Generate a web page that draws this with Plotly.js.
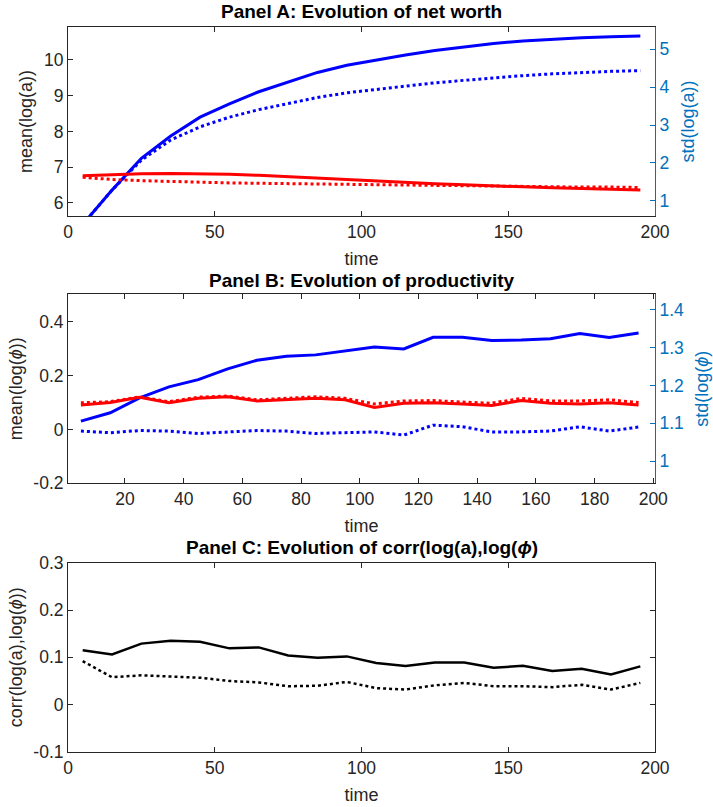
<!DOCTYPE html>
<html>
<head>
<meta charset="utf-8">
<script src="https://cdn.plot.ly/plotly-3.0.1.min.js"></script>
<style>html,body{margin:0;padding:0;background:#fff;}#chart{width:713px;height:807px;}</style>
</head>
<body>
<div id="chart"></div>
<script>
// ---- data ----
const time = [5, 15, 25, 35, 45, 55, 65, 75, 85, 95, 105, 115, 125, 135, 145, 155, 165, 175, 185, 195];

// Panel A: net worth
const meanLogA_solid = [5.40, 6.36, 7.25, 7.87, 8.40, 8.77, 9.11, 9.39, 9.65, 9.85, 10.00, 10.14, 10.26, 10.37, 10.46, 10.53, 10.58, 10.62, 10.65, 10.67];
const meanLogA_dotted = [5.40, 6.36, 7.20, 7.76, 8.13, 8.40, 8.61, 8.79, 8.95, 9.08, 9.18, 9.27, 9.36, 9.43, 9.50, 9.56, 9.61, 9.65, 9.68, 9.70];
const stdLogA_solid = [1.66, 1.69, 1.71, 1.72, 1.72, 1.70, 1.67, 1.63, 1.59, 1.55, 1.51, 1.48, 1.45, 1.42, 1.39, 1.37, 1.34, 1.32, 1.30, 1.28];
const stdLogA_dotted = [1.62, 1.56, 1.53, 1.50, 1.49, 1.47, 1.46, 1.45, 1.45, 1.44, 1.43, 1.42, 1.41, 1.40, 1.39, 1.38, 1.37, 1.36, 1.36, 1.35];

// Panel B: productivity
const meanLogPhi_solid = [0.031, 0.062, 0.117, 0.158, 0.185, 0.225, 0.257, 0.272, 0.277, 0.292, 0.306, 0.299, 0.342, 0.342, 0.330, 0.332, 0.337, 0.356, 0.342, 0.358];
const meanLogPhi_dotted = [-0.006, -0.012, -0.004, -0.006, -0.015, -0.010, -0.004, -0.006, -0.015, -0.012, -0.009, -0.021, 0.016, 0.010, -0.009, -0.009, -0.006, 0.010, -0.006, 0.009];
const stdLogPhi_solid = [1.148, 1.155, 1.169, 1.154, 1.166, 1.170, 1.159, 1.163, 1.166, 1.162, 1.142, 1.153, 1.154, 1.151, 1.147, 1.160, 1.153, 1.151, 1.154, 1.148];
const stdLogPhi_dotted = [1.154, 1.157, 1.170, 1.157, 1.169, 1.172, 1.162, 1.166, 1.170, 1.166, 1.151, 1.159, 1.160, 1.156, 1.153, 1.166, 1.159, 1.159, 1.162, 1.155];

// Panel C: correlation
const corr_solid = [0.115, 0.106, 0.129, 0.135, 0.133, 0.119, 0.121, 0.104, 0.099, 0.102, 0.088, 0.082, 0.089, 0.089, 0.078, 0.082, 0.071, 0.076, 0.064, 0.081];
const corr_dotted = [0.092, 0.058, 0.062, 0.060, 0.057, 0.050, 0.047, 0.039, 0.040, 0.048, 0.035, 0.032, 0.041, 0.046, 0.039, 0.039, 0.037, 0.042, 0.032, 0.046];

// tick labels
const xTicksAC = [0, 50, 100, 150, 200];
const xTicksB = [20, 40, 60, 80, 100, 120, 140, 160, 180, 200];
const yTicksA = [6, 7, 8, 9, 10];
const y2TicksA = [1, 2, 3, 4, 5];
const yTicksB = [-0.2, 0, 0.2, 0.4];
const yTickTextB = ['-0.2', '0', '0.2', '0.4'];
const y2TicksB = [1, 1.1, 1.2, 1.3, 1.4];
const y2TickTextB = ['1', '1.1', '1.2', '1.3', '1.4'];
const yTicksC = [-0.1, 0, 0.1, 0.2, 0.3];
const yTickTextC = ['-0.1', '0', '0.1', '0.2', '0.3'];

const titles = ['<b>Panel A: Evolution of net worth</b>', '<b>Panel B: Evolution of productivity</b>', '<b>Panel C: Evolution of corr(log(a),log(<i>ϕ</i>)</b>'];

// ---- styling ----
const FONT = 'Liberation Sans, Arial, Helvetica, sans-serif';
const AX = '#262626';
const RAX = '#0072BD';
const BLUE = '#0000FF', RED = '#FF0000', BLACK = '#000000';
const LW = 3;
const TICKSIZE = 17.5, LABELSIZE = 18, TITLESIZE = 19;

function line(x, y, color, dash, xa, ya, w) {
  return {x: x, y: y, type: 'scatter', mode: 'lines', xaxis: xa, yaxis: ya,
          line: {color: color, width: w || LW, dash: dash}, hoverinfo: 'skip', showlegend: false};
}

const traces = [
  line(time, stdLogA_dotted, RED, 'dot', 'x', 'y2'),
  line(time, stdLogA_solid, RED, 'solid', 'x', 'y2'),
  line(time, meanLogA_dotted, BLUE, 'dot', 'x', 'y'),
  line(time, meanLogA_solid, BLUE, 'solid', 'x', 'y'),
  line(time, stdLogPhi_dotted, RED, 'dot', 'x2', 'y4'),
  line(time, stdLogPhi_solid, RED, 'solid', 'x2', 'y4'),
  line(time, meanLogPhi_dotted, BLUE, 'dot', 'x2', 'y3'),
  line(time, meanLogPhi_solid, BLUE, 'solid', 'x2', 'y3'),
  line(time, corr_dotted, BLACK, 'dot', 'x3', 'y5', 2.5),
  line(time, corr_solid, BLACK, 'solid', 'x3', 'y5', 2.5)
];

function xax(anchor, range, ticks, standoff) {
  return {anchor: anchor, domain: [0, 1], range: range, tickvals: ticks,
    ticks: 'inside', ticklen: 5, tickcolor: AX, showline: true, linecolor: AX, linewidth: 1,
    mirror: 'ticks', showgrid: false, zeroline: false, automargin: false,
    tickfont: {family: FONT, size: TICKSIZE, color: AX},
    title: {text: 'time', font: {family: FONT, size: LABELSIZE, color: AX}, standoff: standoff}};
}
function yax(domain, range, ticks, text, title, mirror, standoff) {
  const a = {anchor: null, domain: domain, range: range, tickvals: ticks,
    ticks: 'inside', ticklen: 5, tickcolor: AX, showline: true, linecolor: AX, linewidth: 1,
    mirror: mirror, showgrid: false, zeroline: false, automargin: false,
    tickfont: {family: FONT, size: TICKSIZE, color: AX},
    title: {text: title, font: {family: FONT, size: LABELSIZE, color: AX}, standoff: standoff}};
  if (text) a.ticktext = text;
  return a;
}
function y2ax(over, anchor, range, ticks, text, title) {
  const a = {overlaying: over, anchor: anchor, side: 'right', range: range, tickvals: ticks,
    ticks: 'inside', ticklen: 5, tickcolor: RAX, showline: true, linecolor: RAX, linewidth: 1,
    showgrid: false, zeroline: false, automargin: false,
    tickfont: {family: FONT, size: TICKSIZE, color: RAX},
    title: {text: title, font: {family: FONT, size: LABELSIZE, color: RAX}, standoff: 12}};
  if (text) a.ticktext = text;
  return a;
}

const yA = yax([0.7393, 1], [5.636, 10.92], yTicksA, null, 'mean(log(a))', false, 6); yA.anchor = 'x';
const yB = yax([0.3706, 0.6317], [-0.2, 0.503], yTicksB, yTickTextB, 'mean(log(<i>ϕ</i>))', false, 6); yB.anchor = 'x2';
const yC = yax([0, 0.2611], [-0.1, 0.3], yTicksC, yTickTextC, 'corr(log(a),log(<i>ϕ</i>))', 'ticks', 6); yC.anchor = 'x3';

const titleY = [1.0207, 0.651, 0.2814];
const annotations = titles.map((t, i) => ({
  text: t, xref: 'paper', yref: 'paper', x: 0.5, y: titleY[i], xanchor: 'center', yanchor: 'middle',
  showarrow: false, font: {family: FONT, size: TITLESIZE, color: BLACK}
}));

const layout = {
  width: 713, height: 807,
  margin: {l: 68, r: 58, t: 27, b: 55, pad: 0},
  paper_bgcolor: '#ffffff', plot_bgcolor: '#ffffff',
  showlegend: false,
  xaxis: xax('y', [0, 200], xTicksAC, 11),
  xaxis2: xax('y3', [0.6, 200.6], xTicksB, 11),
  xaxis3: xax('y5', [0, 200], xTicksAC, 11),
  yaxis: yA,
  yaxis2: y2ax('y', 'x', [0.596, 5.59], y2TicksA, null, 'std(log(a))'),
  yaxis3: yB,
  yaxis4: y2ax('y3', 'x2', [0.941, 1.442], y2TicksB, y2TickTextB, 'std(log(<i>ϕ</i>)'),
  yaxis5: yC,
  annotations: annotations
};

Plotly.newPlot('chart', traces, layout, {displayModeBar: false, staticPlot: true});
</script>
</body>
</html>
